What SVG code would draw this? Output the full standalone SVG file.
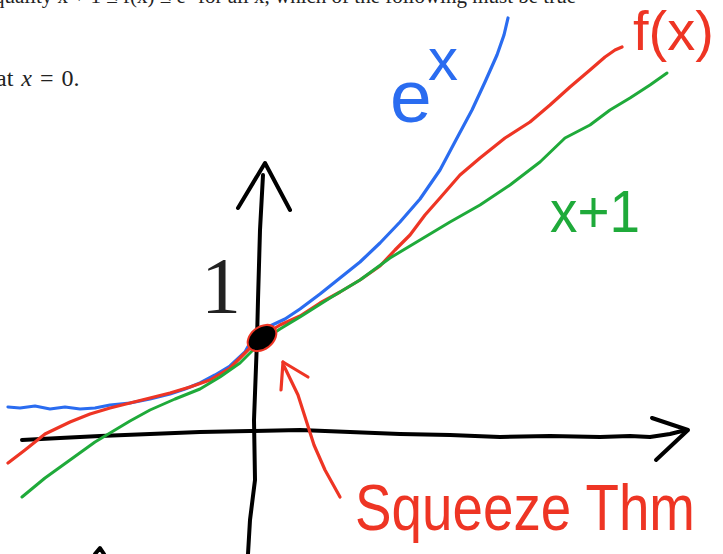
<svg xmlns="http://www.w3.org/2000/svg" width="723" height="554" viewBox="0 0 723 554">
<style>
.s{fill:none;stroke-linecap:round;stroke-linejoin:round}
.k{stroke:#000;stroke-width:4}
.b{stroke:#2a6cf0;stroke-width:3.2}
.r{stroke:#ee3524;stroke-width:3.2}
.g{stroke:#1faa3a;stroke-width:3}
.tex{font-family:"Liberation Serif",serif;fill:#222}
.hand{font-family:"Liberation Sans",sans-serif}
</style>
<rect width="723" height="554" fill="#fff"/>
<g id="header">
<text class="tex" x="-6" y="3" font-size="21">quality x + 1 ≤ f(x) ≤ e<tspan font-size="14" dy="-8">x</tspan><tspan dy="8"> for all x, which of the following must be true</tspan></text>
<text class="tex" x="-4" y="86" font-size="24" word-spacing="2">at <tspan font-style="italic">x</tspan> = 0.</text>
</g>
<g id="axes">
<path class="s k" d="M248,554 L250,520 L255,480 L254,420 L257,340 L258,300 L260,230 L263,175"/>
<path class="s k" d="M238,208 L265,163 L290,210"/>
<path class="s k" d="M22,440 L60,438 L100,436 L150,434 L200,432 L250,431 L300,430 L350,432 L400,434 L450,435 L500,437 L550,436 L600,437 L630,436 L650,437 L670,434 L686,430"/>
<path class="s k" d="M652,418 L688,430 L656,460"/>
<path class="s k" d="M95,554 L100,548 L104,554"/>
</g>
<g id="exp-curve">
<path class="s b" d="M8,407 L20,408 L35,406 L50,409 L65,407 L80,409 L95,408 L110,405 L130,403 L150,399 L170,394 L185,389 L200,383 L215,375 L230,366 L245,352 L250,343 L258,331 L270,326 L285,319 L300,309 L320,294 L340,278 L360,262 L380,243 L400,222 L420,199 L440,170 L457,138 L472,110 L485,82 L497,55 L504,35 L508,18"/>
<text class="hand" x="390" y="122" font-size="75" fill="#2a6cf0">e</text>
<text class="hand" x="428" y="80" font-size="60" fill="#2a6cf0">x</text>
</g>
<g id="f-curve">
<path class="s r" d="M8,463 L25,450 L45,434 L70,422 L90,414 L110,408 L130,403 L150,398 L170,393 L190,387 L210,380 L230,368 L245,353 L262,336 L280,325 L300,316 L320,303 L340,292 L360,280 L380,266 L395,250 L410,235 L425,215 L440,198 L460,175 L480,158 L505,138 L530,122 L550,105 L570,87 L590,70 L605,57 L615,50 L622,47"/>
<text class="hand" x="633" y="50" font-size="56" fill="#ee3524">f(x)</text>
</g>
<g id="line-curve">
<path class="s g" d="M22,497 L45,478 L70,460 L95,442 L110,433 L130,421 L150,410 L175,399 L200,389 L220,377 L240,363 L262,341 L280,329 L300,317 L330,298 L360,280 L390,258 L420,240 L450,222 L480,205 L510,185 L540,162 L565,138 L590,125 L610,110 L630,98 L650,85 L667,73"/>
<text class="hand" x="550" y="232" font-size="60" fill="#1faa3a" textLength="90" lengthAdjust="spacingAndGlyphs">x+1</text>
</g>
<g id="point">
<ellipse cx="262" cy="338" rx="16" ry="11" transform="rotate(-38 262 338)" fill="#000" stroke="#ee3524" stroke-width="2"/>
<text class="tex" x="201" y="313" font-size="80" fill="#000">1</text>
</g>
<g id="squeeze-label">
<path class="s r" d="M283,362 L281,390"/>
<path class="s r" d="M283,362 L308,377"/>
<path class="s r" d="M284,366 L298,395 L306,420 L314,445 L325,470 L340,497"/>
<text class="hand" x="355" y="530" font-size="64" fill="#ee3524" textLength="340" lengthAdjust="spacingAndGlyphs">Squeeze Thm</text>
</g>
</svg>
